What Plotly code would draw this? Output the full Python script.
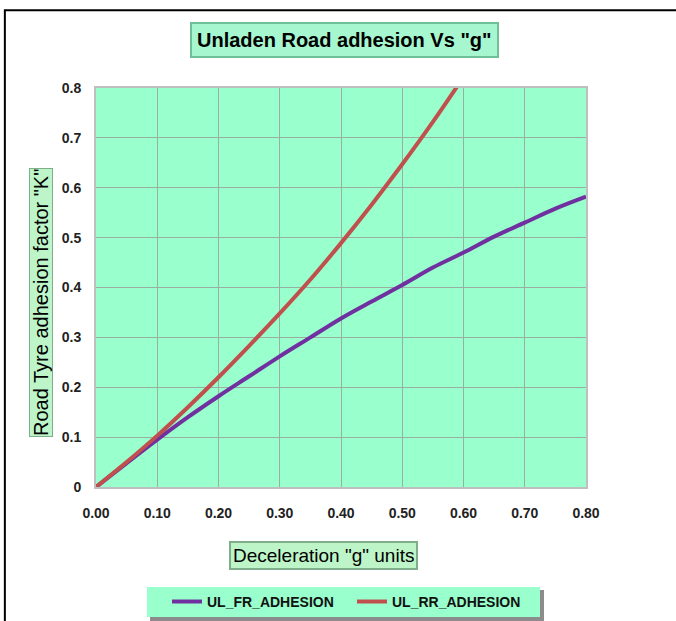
import plotly.graph_objects as go

# Data
decel_g = [0.00, 0.05, 0.10, 0.15, 0.20, 0.25, 0.30, 0.35, 0.40, 0.45, 0.50, 0.55, 0.60, 0.65, 0.70, 0.75, 0.80]
ul_fr_adhesion = [0.000, 0.048, 0.095, 0.140, 0.182, 0.222, 0.262, 0.300, 0.338, 0.372, 0.405, 0.440, 0.470, 0.502, 0.530, 0.558, 0.582]
decel_g_rr = [0.00, 0.05, 0.10, 0.15, 0.20, 0.25, 0.30, 0.35, 0.40, 0.45, 0.50, 0.55, 0.60]
ul_rr_adhesion = [0.000, 0.050, 0.103, 0.160, 0.220, 0.283, 0.348, 0.416, 0.489, 0.566, 0.647, 0.732, 0.822]

x_ticks = [0.0, 0.1, 0.2, 0.3, 0.4, 0.5, 0.6, 0.7, 0.8]
x_ticktext = ["0.00", "0.10", "0.20", "0.30", "0.40", "0.50", "0.60", "0.70", "0.80"]
y_ticks = [0.0, 0.1, 0.2, 0.3, 0.4, 0.5, 0.6, 0.7, 0.8]
y_ticktext = ["0", "0.1", "0.2", "0.3", "0.4", "0.5", "0.6", "0.7", "0.8"]

FONT = "Liberation Sans, Arial, sans-serif"
MINT = "#99FFCC"

fig = go.Figure()
fig.add_trace(go.Scatter(x=decel_g, y=ul_fr_adhesion, mode="lines", name="UL_FR_ADHESION",
                         line=dict(color="#7030A0", width=4, shape="spline", smoothing=1)))
fig.add_trace(go.Scatter(x=decel_g_rr, y=ul_rr_adhesion, mode="lines", name="UL_RR_ADHESION",
                         line=dict(color="#C0504D", width=4, shape="spline", smoothing=1)))

fig.update_layout(
    width=676, height=621,
    margin=dict(l=96, r=90, t=88, b=134, autoexpand=False),
    paper_bgcolor="white",
    plot_bgcolor=MINT,
    font=dict(family=FONT, color="#1a1a1a"),
    showlegend=True,
    legend=dict(orientation="h", x=(167 - 96) / 490, y=-0.288, xanchor="left", yanchor="middle",
                bgcolor="rgba(0,0,0,0)", font=dict(size=14, family=FONT, color="#111", weight="bold"),
                entrywidth=140, itemwidth=30),
    xaxis=dict(range=[0, 0.8], tickvals=x_ticks, ticktext=x_ticktext,
               showgrid=True, gridcolor="#9AAFA2", gridwidth=1,
               showline=True, linecolor="#BFBFBF", linewidth=2, mirror=True,
               zeroline=False, ticks="", ticklabelstandoff=12,
               tickfont=dict(size=14, family=FONT, color="#222", weight="bold")),
    yaxis=dict(range=[0, 0.8], tickvals=y_ticks, ticktext=y_ticktext,
               showgrid=True, gridcolor="#9AAFA2", gridwidth=1,
               showline=True, linecolor="#BFBFBF", linewidth=2, mirror=True,
               zeroline=False, ticks="", ticklabelstandoff=10,
               tickfont=dict(size=14, family=FONT, color="#222", weight="bold")),
)

# outer frame
fig.add_shape(type="rect", xref="paper", yref="paper", x0=-0.186, x1=1.4, y0=-0.6, y1=1.195,
              line=dict(color="black", width=2), fillcolor="rgba(0,0,0,0)", layer="below")

# legend box with shadow
fig.add_shape(type="rect", xref="paper", yref="paper",
              x0=(150 - 96) / 490, x1=(544 - 96) / 490, y0=(487 - 621) / 399, y1=(487 - 590) / 399,
              line=dict(width=0), fillcolor="#8c8c8c", layer="below")
fig.add_shape(type="rect", xref="paper", yref="paper",
              x0=(147 - 96) / 490, x1=(540 - 96) / 490, y0=(487 - 617) / 399, y1=(487 - 587) / 399,
              line=dict(width=0), fillcolor=MINT, layer="below")

# title box
fig.add_annotation(text="<b>Unladen Road adhesion Vs \"g\"</b>", xref="paper", yref="paper",
                   x=(344 - 96) / 490, y=(487 - 40) / 399, xanchor="center", yanchor="middle",
                   showarrow=False,
                   font=dict(size=20, family=FONT, color="black"),
                   bgcolor="#A6F7CF", bordercolor="#6FBF97", borderwidth=2, borderpad=5)

# x axis title box
fig.add_annotation(text="Deceleration \"g\" units", xref="paper", yref="paper",
                   x=(323 - 96) / 490, y=(487 - 555) / 399, xanchor="center", yanchor="middle",
                   showarrow=False,
                   font=dict(size=19, family=FONT, color="black"),
                   bgcolor="#BDF5C8", bordercolor="#7FAF8A", borderwidth=2, borderpad=2)

# y axis title box
fig.add_annotation(text="Road Tyre adhesion factor \"K\"", xref="paper", yref="paper",
                   x=(41 - 96) / 490, y=(487 - 303) / 399, xanchor="center", yanchor="middle",
                   showarrow=False, textangle=-90,
                   font=dict(size=20, family=FONT, color="black"),
                   bgcolor="#BDF5C8", bordercolor="#7FAF8A", borderwidth=1, borderpad=0)

fig.write_html("out.html")
